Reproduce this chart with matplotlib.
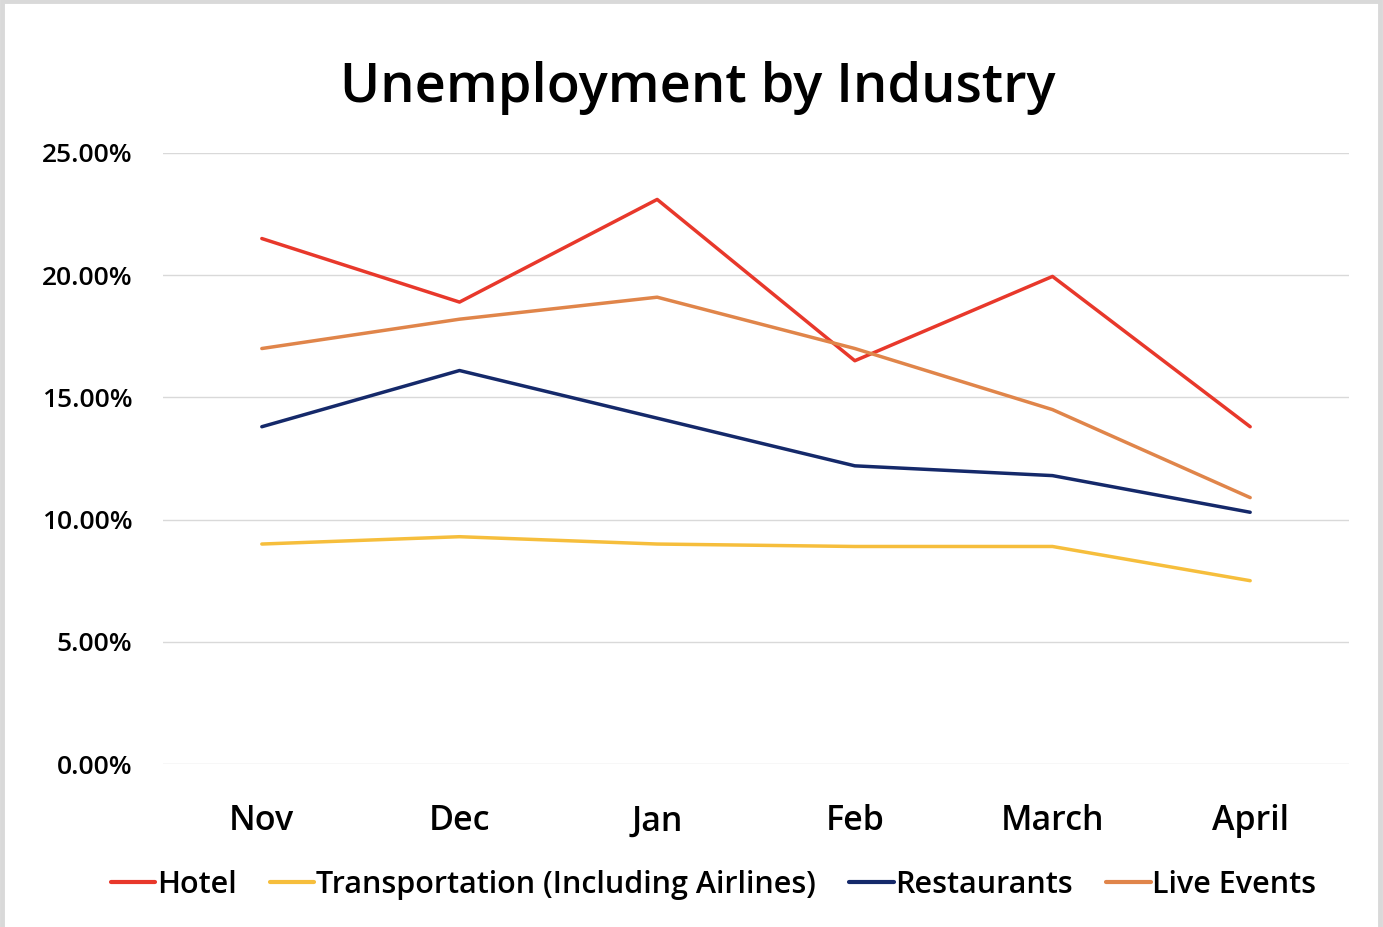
import matplotlib
matplotlib.use("Agg")
import matplotlib.pyplot as plt
from matplotlib.patches import Rectangle
from matplotlib.ticker import FuncFormatter

months = ["Nov", "Dec", "Jan", "Feb", "March", "April"]
hotel = [21.5, 18.9, 23.1, 16.5, 19.95, 13.8]
transportation = [9.0, 9.3, 9.0, 8.9, 8.9, 7.5]
restaurants = [13.8, 16.1, 14.15, 12.2, 11.8, 10.3]
live_events = [17.0, 18.2, 19.1, 17.0, 14.5, 10.9]

series = [
    ("Hotel", hotel, "#E8382B"),
    ("Transportation (Including Airlines)", transportation, "#F6BE3C"),
    ("Restaurants", restaurants, "#15296A"),
    ("Live Events", live_events, "#E0854A"),
]

plt.rcParams['font.family'] = ['Open Sans', 'DejaVu Sans']
plt.rcParams['font.weight'] = 'semibold'

fig = plt.figure(figsize=(13.83, 9.27), dpi=100)
fig.patch.set_facecolor("white")
fig.patches.append(Rectangle((2/1383, -0.01), (1378-0)/1383, (927-1)/927 + 0.01,
                             transform=fig.transFigure, facecolor="none",
                             edgecolor="#D9D9D9", lw=3.5, zorder=10))

ax = fig.add_axes([163/1383, 1-764/927, (1349-163)/1383, (764-153)/927])
x = list(range(len(months)))
for name, vals, col in series:
    ax.plot(x, vals, color=col, lw=2.5, label=name, solid_capstyle="round")

ax.set_xlim(-0.5, len(months)-0.5)
ax.set_ylim(0, 25)
ax.set_yticks([0, 5, 10, 15, 20, 25])
ax.yaxis.set_major_formatter(FuncFormatter(lambda v, p: f"{v:.2f}%"))
ax.set_xticks(x)
ax.set_xticklabels(months, fontsize=24.5)
ax.tick_params(axis='y', labelsize=19, length=0, pad=22)
ax.tick_params(axis='x', length=0, pad=29)
ax.grid(axis='y', color="#D9D9D9", lw=1)
ax.set_axisbelow(True)
for s in ax.spines.values():
    s.set_visible(False)

fig.text(0.5 + 6/1383, 1-88/927, "Unemployment by Industry", ha="center", va="center", fontsize=39)

leg = fig.legend(loc="center", bbox_to_anchor=(0.5 + 22/1383, 1-885/927), ncol=4, frameon=False,
                 fontsize=22, handlelength=1.45, handletextpad=0.05, columnspacing=1.1)
for h in leg.get_lines():
    h.set_linewidth(3)

fig.savefig("out.png", dpi=100, facecolor="white")
